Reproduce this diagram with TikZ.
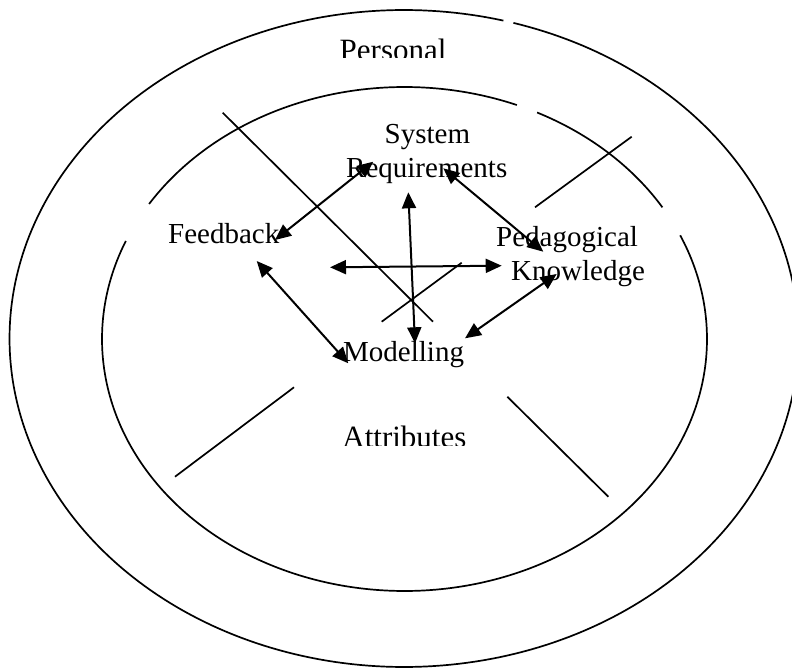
\documentclass[tikz,border=0pt]{standalone}
\usepackage{fontspec}
\setmainfont{Liberation Serif}
\usetikzlibrary{arrows.meta}
\tikzset{
  ring/.style={line width=1.7pt},
  divider/.style={line width=1.7pt},
  link/.style={line width=2pt, {Triangle[length=16pt,width=14pt]}-{Triangle[length=16pt,width=14pt]}},
  lbl/.style={inner sep=0pt, anchor=base west, font=\fontsize{29}{34}\selectfont},
  biglbl/.style={inner sep=0pt, anchor=base west, font=\fontsize{31}{36}\selectfont}
}
\begin{document}
\begin{tikzpicture}[x=1pt,y=-1pt]
\useasboundingbox (0,0) rectangle (792,669);

% outer ring (with small break at top)
\draw[ring] plot[domain=286.1:644.6, samples=300] ({404+394.5*cos(\x)},{338.5+328.5*sin(\x)});
% inner ring (three arcs)
\draw[ring] plot[domain=212.4:291.8, samples=120] ({404.5+302.5*cos(\x)},{339+252*sin(\x)});
\draw[ring] plot[domain=296.0:328.5, samples=60] ({404.5+302.5*cos(\x)},{339+252*sin(\x)});
\draw[ring] plot[domain=335.7:562.9, samples=240] ({404.5+302.5*cos(\x)},{339+252*sin(\x)});

% dividing lines
\coordinate (d1a) at (222.7,112.7);
\coordinate (d1b) at (433,321.7);
\coordinate (d1c) at (507.3,396.7);
\coordinate (d1d) at (608.3,496.7);
\coordinate (d2a) at (381.7,321.7);
\coordinate (d2b) at (461.7,262.7);
\coordinate (d2c) at (535,207.3);
\coordinate (d2d) at (631.7,136.7);
\coordinate (d3a) at (294,387.3);
\coordinate (d3b) at (175,476.7);
\draw[divider] (d1a) -- (d1b);
\draw[divider] (d1c) -- (d1d);
\draw[divider] (d2a) -- (d2b);
\draw[divider] (d2c) -- (d2d);
\draw[divider] (d3a) -- (d3b);

% labels
\begin{scope}
  \clip (300,0) rectangle (500,58);
  \node[biglbl] (personal) at (339.5,60) {Personal};
\end{scope}
\begin{scope}
  \clip (300,400) rectangle (500,445.5);
  \node[biglbl] (attributes) at (342.2,447.3) {Attributes};
\end{scope}
\node[lbl] (system) at (384.5,143.5) {System};
\node[lbl] (requirements) at (346,177) {Requirements};
\node[lbl] (feedback) at (168,243.5) {Feedback};
\node[lbl] (pedagogical) at (496,246.7) {Pedagogical};
\node[lbl] (knowledge) at (511,280) {Knowledge};
\node[lbl] (modelling) at (343,361.7) {Modelling};

% arrow end points
\coordinate (srL) at (373.3,161.7);
\coordinate (fbR) at (275,240);
\coordinate (srR) at (443.3,168.3);
\coordinate (pkT) at (543.3,251.7);
\coordinate (srB) at (408.3,192.3);
\coordinate (moT) at (415,343.3);
\coordinate (fbB) at (256.7,261);
\coordinate (moL) at (348.3,363.3);
\coordinate (pkB) at (556.7,274);
\coordinate (moR) at (465,338.3);
\coordinate (hzL) at (330,267.3);
\coordinate (hzR) at (501.7,265.7);

% arrows
\draw[link] (srL) -- (fbR);
\draw[link] (srR) -- (pkT);
\draw[link] (srB) -- (moT);
\draw[link] (hzL) -- (hzR);
\draw[link] (fbB) -- (moL);
\draw[link] (pkB) -- (moR);
\end{tikzpicture}
\end{document}
